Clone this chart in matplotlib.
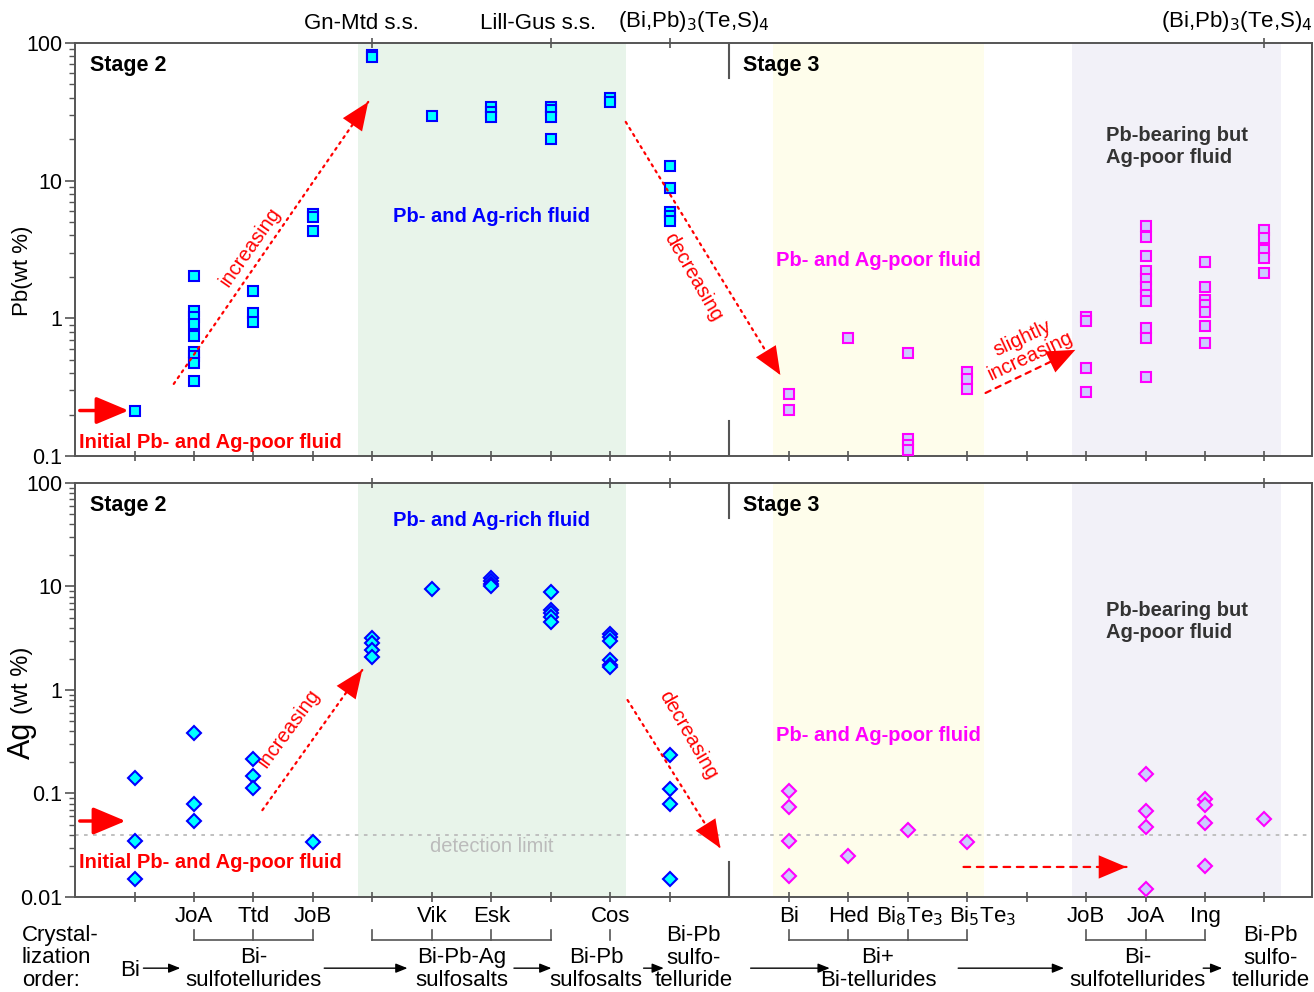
# Pb and Ag contents of Bi minerals through stage 2 and stage 3
import numpy as np
import matplotlib.pyplot as plt
from matplotlib.ticker import NullFormatter, LogLocator, FuncFormatter

plt.rcParams['font.family'] = ['Liberation Sans', 'DejaVu Sans']

# column positions along the crystallization order (11 = stage boundary)
col_pos = [1, 2, 3, 4, 5, 6, 7, 8, 9, 10, 12, 13, 14, 15, 16, 17, 18, 19, 20]
col_labels = ['', 'JoA', 'Ttd', 'JoB', '', 'Vik', 'Esk', '', 'Cos', '',
              'Bi', 'Hed', '', '', '', 'JoB', 'JoA', 'Ing', '']
# the two telluride labels sit a bit off their ticks in the original
shifted_labels = [(14.03, 'Bi$_8$Te$_3$'), (15.26, 'Bi$_5$Te$_3$')]

# Pb (wt %), stage 2 minerals, keyed by column
pb_stage2 = {
    1: [0.214],
    2: [2.03, 1.13, 1.03, 0.91, 0.74, 0.57, 0.53, 0.47, 0.35],
    3: [1.58, 1.09, 0.94],
    4: [5.7, 5.4, 4.3],
    5: [82, 79],
    6: [29.4],
    7: [34.5, 31.5, 29.1],
    8: [34.5, 32.6, 29.1, 20.0],
    9: [39.5, 37.5],
    10: [12.8, 8.9, 5.9, 5.5, 5.1],
}
# Pb (wt %), stage 3 minerals
pb_stage3 = {
    12: [0.282, 0.216],
    13: [0.716],
    14: [0.557, 0.133, 0.12, 0.11],
    15: [0.406, 0.363, 0.307],
    17: [1.03, 0.96, 0.434, 0.29],
    18: [4.69, 3.88, 2.84, 2.21, 1.92, 1.70, 1.48, 1.34, 0.855, 0.724, 0.377],
    19: [2.58, 1.68, 1.35, 1.24, 1.12, 0.885, 0.667],
    20: [4.38, 3.82, 3.14, 2.73, 2.13],
}
# Ag (wt %), stage 2 minerals
ag_stage2 = {
    1: [0.140, 0.0348, 0.0148],
    2: [0.381, 0.079, 0.0546],
    3: [0.214, 0.148, 0.114],
    4: [0.0337],
    5: [3.16, 2.83, 2.43, 2.10],
    6: [9.46],
    7: [12.0, 11.2, 10.6, 10.1],
    8: [8.79, 5.93, 5.51, 5.04, 4.57],
    9: [3.45, 3.27, 2.97, 1.95, 1.75, 1.67],
    10: [0.236, 0.110, 0.080, 0.0149],
}
# Ag (wt %), stage 3 minerals
ag_stage3 = {
    12: [0.106, 0.0746, 0.035, 0.0161],
    13: [0.0251],
    14: [0.0444],
    15: [0.0343],
    18: [0.154, 0.0682, 0.0471, 0.0119],
    19: [0.0885, 0.0775, 0.0522, 0.0201],
    20: [0.0567],
}
detection_limit = 0.04

# shaded fluid fields (column range)
field_green = (4.75, 9.26)
field_yellow = (11.74, 15.28)
field_lavender = (16.76, 20.27)

RED = '#FF0000'
FS = 16


def scatter_dict(ax, d, marker, size, face, edge):
    for x, vals in d.items():
        ax.plot([x] * len(vals), vals, ls='none', marker=marker, ms=size,
                mfc=face, mec=edge, mew=1.5, zorder=5, clip_on=False)


def dotted_arrow(ax, start, end, ls=(0, (1, 2.2))):
    ax.annotate('', xy=end, xytext=start,
                arrowprops=dict(arrowstyle='-', color=RED, lw=1.6, ls=ls,
                                shrinkA=0, shrinkB=0), zorder=6)
    # solid head at the end
    f = 0.03
    hx = end[0] - f * (end[0] - start[0])
    hy = end[1] * (start[1] / end[1]) ** f
    ax.annotate('', xy=end, xytext=(hx, hy),
                arrowprops=dict(arrowstyle='-|>,head_length=1.0,head_width=0.42',
                                mutation_scale=20, color=RED, lw=0,
                                shrinkA=0, shrinkB=0), zorder=6)


def base_axes(ax, ylo):
    ax.set_yscale('log')
    ax.set_ylim(ylo, 100)
    ax.set_xlim(0, 20.8)
    ax.axvspan(*field_green, color='#E8F4EA', zorder=0, lw=0)
    ax.axvspan(*field_yellow, color='#FEFDEB', zorder=0, lw=0)
    ax.axvspan(*field_lavender, color='#F2F1F8', zorder=0, lw=0)
    for s in ax.spines.values():
        s.set_color('#555555')
        s.set_linewidth(1.4)
    ax.set_xticks(col_pos)
    ax.tick_params(axis='x', direction='inout', length=7, width=1.2, color='#555555')
    ax.tick_params(axis='y', which='major', direction='out', length=7, width=1.2,
                   color='#555555', labelsize=15.5, pad=2)
    ax.tick_params(axis='y', which='minor', direction='out', length=4, width=1.0,
                   color='#555555')
    ax.yaxis.set_major_locator(LogLocator(base=10))
    ax.yaxis.set_minor_locator(LogLocator(base=10, subs=np.arange(2, 10)))
    ax.yaxis.set_minor_formatter(NullFormatter())
    ax.yaxis.set_major_formatter(FuncFormatter(lambda v, p: '%g' % v))
    ax.text(0.012, 0.97, 'Stage 2', transform=ax.transAxes, fontsize=15.5,
            fontweight='bold', va='top', ha='left')
    ax.text(0.540, 0.97, 'Stage 3', transform=ax.transAxes, fontsize=15.5,
            fontweight='bold', va='top', ha='left')
    ax.axvline(11, ymin=0, ymax=0.085, color='#555555', lw=1.5)
    ax.axvline(11, ymin=0.915, ymax=1, color='#555555', lw=1.5)


fig = plt.figure(figsize=(13.14, 9.92), dpi=100)
ax1 = fig.add_axes([0.0571, 0.5403, 0.9414, 0.4164])
ax2 = fig.add_axes([0.0571, 0.0958, 0.9414, 0.4173])

# ---------------- top panel: Pb ----------------
base_axes(ax1, 0.1)
ax1.set_xticklabels([])
scatter_dict(ax1, pb_stage2, 's', 7.8, '#00FFFF', '#0000FF')
scatter_dict(ax1, pb_stage3, 's', 7.8, '#CCCCFF', '#FF00FF')

top = ax1.secondary_xaxis('top')
top.set_xticks([5, 8, 10, 20])
top.set_xticklabels([])
top.tick_params(direction='inout', length=7, width=1.2, color='#555555')
top.spines['top'].set_visible(False)
for x, s in [(4.82, 'Gn-Mtd s.s.'), (7.78, 'Lill-Gus s.s.'),
             (10.4, '(Bi,Pb)$_3$(Te,S)$_4$'), (19.53, '(Bi,Pb)$_3$(Te,S)$_4$')]:
    ax1.text(x, 1.022, s, transform=ax1.get_xaxis_transform(), ha='center',
             va='bottom', fontsize=FS)

ax1.annotate('', xy=(0.9, 0.214), xytext=(0.08, 0.214),
             arrowprops=dict(arrowstyle='-|>,head_length=1.0,head_width=0.42',
                             mutation_scale=20, color=RED, lw=2.5,
                             shrinkA=0, shrinkB=0))
ax1.text(0.07, 0.125, 'Initial Pb- and Ag-poor fluid', color=RED, fontsize=14.5,
         fontweight='bold', va='center', ha='left')
dotted_arrow(ax1, (1.66, 0.334), (4.93, 37.3))
ax1.text(2.95, 3.3, 'increasing', color=RED, fontsize=14.5, rotation=55,
         ha='center', va='center')
dotted_arrow(ax1, (9.26, 26.7), (11.86, 0.388))
ax1.text(10.4, 2.0, 'decreasing', color=RED, fontsize=14.5, rotation=-60,
         ha='center', va='center')
dotted_arrow(ax1, (15.31, 0.287), (16.82, 0.59), ls=(0, (2.5, 2.5)))
ax1.text(16.0, 0.62, 'slightly\nincreasing', color=RED, fontsize=14.5, rotation=25,
         ha='center', va='center', linespacing=1.0)

ax1.text(7.0, 5.45, 'Pb- and Ag-rich fluid', color='#0000FF', fontsize=14.5,
         fontweight='bold', ha='center', va='center')
ax1.text(13.51, 2.65, 'Pb- and Ag-poor fluid', color='#FF00FF', fontsize=14.5,
         fontweight='bold', ha='center', va='center')
ax1.text(17.34, 17.6, 'Pb-bearing but\nAg-poor fluid', color='#333333', fontsize=14.5,
         fontweight='bold', ha='left', va='center', linespacing=1.2)

fig.text(0.017, 0.727, 'Pb(wt %)', rotation=90, fontsize=FS, ha='center', va='center')

# ---------------- bottom panel: Ag ----------------
base_axes(ax2, 0.01)
ax2.set_xticklabels(col_labels, fontsize=FS)
ax2.tick_params(axis='x', pad=3)
tr = ax2.get_xaxis_transform()
for x, s in shifted_labels:
    ax2.text(x, -0.017, s, transform=tr, ha='center', va='top', fontsize=FS)
scatter_dict(ax2, ag_stage2, 'D', 7.4, '#00FFFF', '#0000FF')
scatter_dict(ax2, ag_stage3, 'D', 7.4, '#CCCCFF', '#FF00FF')
ax2.axhline(detection_limit, color='#BBBBBB', lw=1.3, ls=(0, (2, 3)), zorder=1)
ax2.text(7.0, 0.0304, 'detection limit', color='#BBBBBB', fontsize=14.5,
         ha='center', va='center')

top2 = ax2.secondary_xaxis('top')
top2.set_xticks([5, 9, 10, 20])
top2.set_xticklabels([])
top2.tick_params(direction='inout', length=7, width=1.2, color='#555555')
top2.spines['top'].set_visible(False)

ax2.annotate('', xy=(0.85, 0.0542), xytext=(0.08, 0.0542),
             arrowprops=dict(arrowstyle='-|>,head_length=1.0,head_width=0.42',
                             mutation_scale=20, color=RED, lw=2.5,
                             shrinkA=0, shrinkB=0))
ax2.text(0.07, 0.0213, 'Initial Pb- and Ag-poor fluid', color=RED, fontsize=14.5,
         fontweight='bold', va='center', ha='left')
dotted_arrow(ax2, (3.15, 0.069), (4.83, 1.56))
ax2.text(3.6, 0.43, 'increasing', color=RED, fontsize=14.5, rotation=54,
         ha='center', va='center')
dotted_arrow(ax2, (9.29, 0.80), (10.85, 0.0297))
ax2.text(10.3, 0.37, 'decreasing', color=RED, fontsize=14.5, rotation=-60,
         ha='center', va='center')
dotted_arrow(ax2, (14.94, 0.0195), (17.68, 0.0195), ls=(0, (3, 3)))

ax2.text(7.0, 43.9, 'Pb- and Ag-rich fluid', color='#0000FF', fontsize=14.5,
         fontweight='bold', ha='center', va='center')
ax2.text(13.51, 0.367, 'Pb- and Ag-poor fluid', color='#FF00FF', fontsize=14.5,
         fontweight='bold', ha='center', va='center')
ax2.text(17.34, 4.54, 'Pb-bearing but\nAg-poor fluid', color='#333333', fontsize=14.5,
         fontweight='bold', ha='left', va='center', linespacing=1.2)

fig.text(0.017, 0.3145, '(wt %)', rotation=90, fontsize=17, ha='center', va='center')
fig.text(0.017, 0.254, 'Ag', rotation=90, fontsize=22, ha='center', va='center')

# ---------------- crystallization order below the axes ----------------
brackets = [(2, 4, [2, 3, 4]), (5, 8, [5, 6, 7, 8]), (9, 9, [9]),
            (12, 15, [12, 13, 14, 15]), (17, 19, [17, 18, 19])]
for x0, x1, ticks in brackets:
    if x1 > x0:
        ax2.plot([x0, x1], [-0.104, -0.104], color='#555555', lw=1.2,
                 transform=tr, clip_on=False)
    for t in ticks:
        ax2.plot([t, t], [-0.080, -0.104], color='#555555', lw=1.2,
                 transform=tr, clip_on=False)

groups = [(3.0, 'Bi-\nsulfotellurides'), (6.5, 'Bi-Pb-Ag\nsulfosalts'),
          (8.76, 'Bi-Pb\nsulfosalts'), (10.4, 'Bi-Pb\nsulfo-\ntelluride'),
          (13.5, 'Bi+\nBi-tellurides'), (17.87, 'Bi-\nsulfotellurides'),
          (20.1, 'Bi-Pb\nsulfo-\ntelluride')]
for x, s in groups:
    yc = -0.1477 if s.count('\n') == 2 else -0.1743
    ax2.text(x, yc, s, transform=tr, ha='center', va='center', fontsize=FS,
             linespacing=1.1)
ax2.text(0.93, -0.177, 'Bi', transform=tr, ha='center', va='center', fontsize=FS)
fig.text(0.0167, 0.0343, 'Crystal-\nlization\norder:', ha='left', va='center',
         fontsize=FS, linespacing=1.1)

order_arrows = [(1.15, 1.77), (4.19, 5.59), (7.38, 8.01), (9.56, 9.90),
                (11.36, 12.69), (14.85, 16.63), (18.97, 19.29)]
for a, b in order_arrows:
    ax2.annotate('', xy=(b, -0.172), xytext=(a, -0.172), xycoords=tr,
                 textcoords=tr,
                 arrowprops=dict(arrowstyle='-|>,head_length=0.5,head_width=0.2',
                                 mutation_scale=14, color='black', lw=1.0,
                                 shrinkA=0, shrinkB=0))

fig.savefig('out.png', dpi=100)
